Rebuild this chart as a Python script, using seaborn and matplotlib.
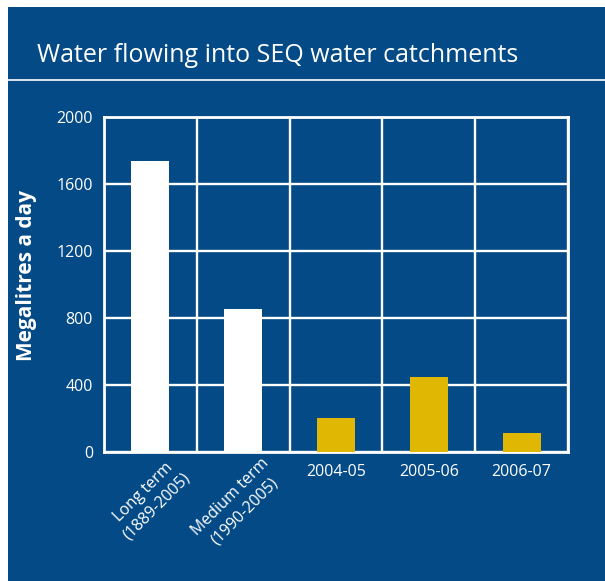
import numpy as np
import pandas as pd
import seaborn as sns
import matplotlib.pyplot as plt
from matplotlib.patches import Rectangle
from matplotlib.lines import Line2D
from matplotlib.transforms import ScaledTranslation

# data
categories = ['Long term\n(1889-2005)', 'Medium term\n(1990-2005)', '2004-05', '2005-06', '2006-07']
flows = [1740, 855, 205, 450, 115]
bar_colors = ['#ffffff', '#ffffff', '#e0b803', '#e0b803', '#e0b803']
y_ticks = [0, 400, 800, 1200, 1600, 2000]

BLUE = '#034a86'
W, H = 605, 581

sns.set_style('white')
plt.rcParams['font.family'] = ['Open Sans', 'DejaVu Sans']

fig = plt.figure(figsize=(W / 100, H / 100), dpi=100, facecolor='white')
# blue panel and title band
fig.patches.append(Rectangle((8 / W, 0), 1 - 8 / W, 1 - 7 / H, transform=fig.transFigure,
                             facecolor=BLUE, edgecolor='none', zorder=-5))
fig.lines.append(Line2D([8 / W, 1], [1 - 80 / H, 1 - 80 / H], transform=fig.transFigure,
                        color='white', lw=1.2, zorder=-4))
fig.text(37 / W, 1 - 55 / H, 'Water flowing into SEQ water catchments', color='white',
         fontsize=18, va='center', ha='left', fontstretch='semi-condensed')

ax = fig.add_axes([104 / W, 1 - 452 / H, (568 - 104) / W, (452 - 117) / H])
ax.set_facecolor(BLUE)

df = pd.DataFrame({'period': categories, 'flow': flows})
sns.barplot(data=df, x='period', y='flow', hue='period', palette=bar_colors,
            legend=False, width=0.41, saturation=1, linewidth=0, ax=ax, zorder=3)

ax.set_xlim(-0.5, len(categories) - 0.5)
ax.set_ylim(0, 2000)
ax.set_yticks(y_ticks)
ax.set_xticks(np.arange(len(categories)) + 0.5, minor=True)
ax.grid(axis='y', which='major', color='white', lw=1.7, zorder=1)
ax.grid(axis='x', which='minor', color='white', lw=1.7, zorder=1)
ax.set_axisbelow(True)
for s in ax.spines.values():
    s.set_color('white')
    s.set_linewidth(2)

ax.tick_params(axis='both', which='both', length=0, colors='white', labelsize=11.5)
ax.tick_params(axis='y', pad=8)
ax.tick_params(axis='x', pad=9)
ax.set_xlabel('')
ax.set_ylabel('Megalitres a day', color='white', fontsize=15, fontweight='bold')
ax.yaxis.set_label_coords(-0.144, 0.528)

# the two long labels sit on a diagonal, nudged right like the original
shift = ScaledTranslation(18 / 100, 9 / 100, fig.dpi_scale_trans)
for i, lbl in enumerate(ax.get_xticklabels()):
    if i < 2:
        lbl.set_rotation(45)
        lbl.set_ha('right')
        lbl.set_va('top')
        lbl.set_rotation_mode('anchor')
        lbl.set_multialignment('center')
        lbl.set_linespacing(1.3)
        lbl.set_transform(lbl.get_transform() + shift)
    lbl.set_color('white')

fig.savefig('out.png', dpi=100, facecolor=fig.get_facecolor())
